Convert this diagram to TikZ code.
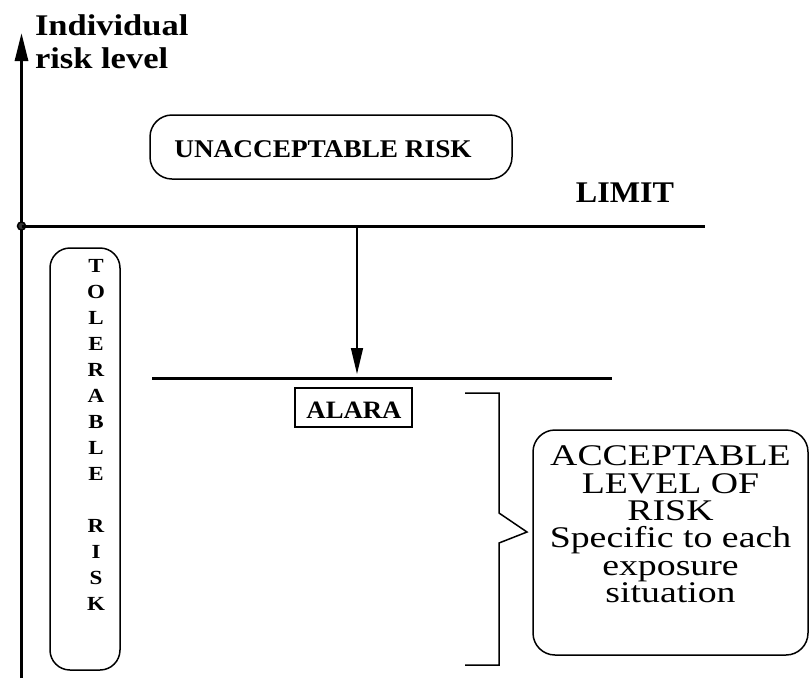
\documentclass[tikz,border=0pt]{standalone}
\usepackage{fontspec}
\setmainfont{Liberation Serif}
\newfontfamily\wa[FakeStretch=1.07]{Liberation Serif}
\newfontfamily\wb[FakeStretch=1.15]{Liberation Serif}
\newfontfamily\wc[FakeStretch=1.26]{Liberation Serif}
\usetikzlibrary{arrows.meta}
\tikzset{
  thickline/.style={line width=3pt},
  thinline/.style={line width=1.5pt},
  roundbox/.style={draw, line width=1.5pt, rounded corners=22pt, inner sep=0pt},
  txt/.style={inner sep=0pt, outer sep=0pt}
}
\begin{document}
\begin{tikzpicture}[x=1pt,y=-1pt]
\useasboundingbox (0,0) rectangle (810,678);
% axis
\coordinate (axb) at (21.5,678);
\coordinate (axt) at (21.5,33);
\draw[thickline, -{Triangle[length=28pt,width=13pt]}] (axb) -- (axt);
\node[txt, anchor=base west, font={\wb\fontsize{30}{33}\selectfont\bfseries}] (ylab1) at (35,35) {Individual};
\node[txt, anchor=base west, font={\wb\fontsize{30}{33}\selectfont\bfseries}] (ylab2) at (35,68) {risk level};
% limit line
\coordinate (l2) at (705,226);
\node[circle, draw, line width=1.5pt, minimum size=8pt, inner sep=0pt, fill=black!80] (org) at (21.5,226) {};
\draw[thickline] (org.center) -- (l2);
\node[txt, anchor=base, font={\wa\fontsize{30}{33}\selectfont\bfseries}] (limit) at (625,202) {LIMIT};
% unacceptable
\node[roundbox, minimum width=362pt, minimum height=64pt] (unacc) at (331,147) {};
\node[txt, anchor=base, font={\wa\fontsize{25.5}{28}\selectfont\bfseries}] (unacct) at (323,157) {UNACCEPTABLE RISK};
% arrow to alara line
\coordinate (a1) at (357,226);
\coordinate (a2) at (357,374);
\draw[thinline, -{Triangle[length=26pt,width=12pt]}] (a1) -- (a2);
% alara line
\coordinate (al1) at (152,378);
\coordinate (al2) at (612,378);
\draw[thickline] (al1) -- (al2);
\node[draw, line width=2pt, minimum width=117pt, minimum height=39pt, inner sep=0pt] (alara) at (353.5,407.5) {};
\node[txt, anchor=base, font={\wa\fontsize{25}{26}\selectfont\bfseries}] (alarat) at (354,418) {ALARA};
% tolerable
\node[roundbox, rounded corners=20pt, minimum width=70pt, minimum height=422pt] (tol) at (85,459) {};
\node[txt, anchor=north, align=center, font={\wb\fontsize{20}{26}\selectfont\bfseries}] (tolt) at (96,259) {T\\O\\L\\E\\R\\A\\B\\L\\E\\[26pt]R\\I\\S\\K};
% bracket
\coordinate (b1) at (465,393);
\coordinate (b2) at (499,393);
\coordinate (b3) at (499,513);
\coordinate (b4) at (527,532);
\coordinate (b5) at (499,543);
\coordinate (b6) at (499,665);
\coordinate (b7) at (465,665);
\draw[thinline] (b1) -- (b2) -- (b3) -- (b4) -- (b5) -- (b6) -- (b7);
% acceptable
\node[roundbox, minimum width=275pt, minimum height=225pt] (acc) at (670.5,542.5) {};
\node[txt, anchor=north, align=center, font={\wc\fontsize{30}{27.3}\selectfont}] (acct) at (670.5,446) {ACCEPTABLE\\LEVEL OF\\RISK\\Specific to each\\exposure\\situation};
\end{tikzpicture}
\end{document}
